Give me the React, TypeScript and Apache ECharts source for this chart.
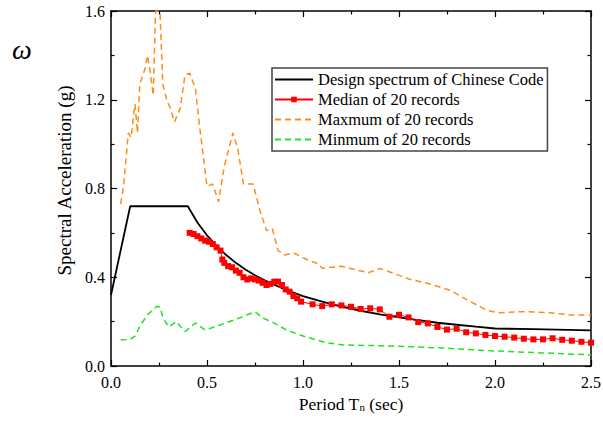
import React, { useEffect, useRef } from "react";
import * as echarts from "echarts";

const FONT = '"Liberation Serif", "Times New Roman", serif';

// Design spectrum of Chinese Code
const designT = [0, 0.1, 0.4, 0.45, 0.5, 0.55, 0.6, 0.65, 0.7, 0.75, 0.8, 0.9, 1.0, 1.1, 1.2, 1.3, 1.4, 1.5, 1.6, 1.7, 1.8, 1.9, 2.0, 2.2, 2.5];
const designS = [0.32, 0.72, 0.72, 0.647, 0.589, 0.541, 0.5, 0.465, 0.435, 0.409, 0.386, 0.347, 0.315, 0.29, 0.268, 0.249, 0.233, 0.219, 0.207, 0.195, 0.186, 0.177, 0.169, 0.166, 0.161];

// Median of 20 records
const medianT = [0.41, 0.43, 0.45, 0.47, 0.49, 0.51, 0.53, 0.55, 0.57, 0.58, 0.59, 0.61, 0.63, 0.65, 0.67, 0.69, 0.71, 0.73, 0.75, 0.77, 0.79, 0.81, 0.83, 0.85, 0.87, 0.89, 0.91, 0.93, 0.95, 0.97, 0.99,
  1.05, 1.1, 1.15, 1.2, 1.25, 1.3, 1.35, 1.4, 1.45, 1.5, 1.55, 1.6, 1.65, 1.7, 1.75, 1.8, 1.85, 1.9, 1.95, 2.0, 2.05, 2.1, 2.15, 2.2, 2.25, 2.3, 2.35, 2.4, 2.45, 2.5];
const medianS = [0.6, 0.595, 0.585, 0.575, 0.565, 0.56, 0.55, 0.535, 0.52, 0.48, 0.465, 0.45, 0.445, 0.43, 0.42, 0.4, 0.39, 0.395, 0.39, 0.385, 0.375, 0.365, 0.37, 0.38, 0.38, 0.365, 0.345, 0.335, 0.315, 0.305, 0.29,
  0.278, 0.27, 0.278, 0.273, 0.267, 0.257, 0.26, 0.255, 0.222, 0.231, 0.219, 0.198, 0.192, 0.176, 0.164, 0.168, 0.152, 0.147, 0.14, 0.135, 0.132, 0.128, 0.123, 0.12, 0.12, 0.125, 0.118, 0.114, 0.109, 0.105];

// Maxmum of 20 records
const maxT = [0.05, 0.064, 0.08, 0.09, 0.105, 0.12, 0.125, 0.138, 0.15, 0.177, 0.19, 0.205, 0.22, 0.232, 0.255, 0.27, 0.29, 0.31, 0.33, 0.36, 0.385, 0.41, 0.44, 0.46, 0.5, 0.53, 0.56, 0.59, 0.635, 0.66, 0.69, 0.74, 0.776, 0.81, 0.84, 0.87, 0.905, 0.95, 1.02, 1.08, 1.1, 1.2, 1.34, 1.4, 1.56, 1.66, 1.77, 1.85, 1.96, 2.02, 2.15, 2.29, 2.39, 2.5];
const maxS = [0.73, 0.8, 0.95, 1.05, 1.03, 1.15, 1.18, 1.05, 1.27, 1.34, 1.4, 1.32, 1.22, 1.6, 1.6, 1.27, 1.2, 1.16, 1.1, 1.16, 1.31, 1.32, 1.25, 1.09, 0.81, 0.82, 0.74, 0.9, 1.05, 0.98, 0.82, 0.82, 0.7, 0.61, 0.62, 0.52, 0.5, 0.51, 0.48, 0.46, 0.44, 0.45, 0.42, 0.44, 0.39, 0.37, 0.34, 0.3, 0.25, 0.24, 0.245, 0.24, 0.23, 0.23];

// Minmum of 20 records
const minT = [0.05, 0.1, 0.125, 0.15, 0.19, 0.24, 0.255, 0.27, 0.3, 0.34, 0.385, 0.44, 0.49, 0.54, 0.61, 0.68, 0.75, 0.79, 0.84, 0.915, 1.0, 1.125, 1.21, 1.47, 1.73, 1.99, 2.25, 2.5];
const minS = [0.117, 0.12, 0.135, 0.18, 0.23, 0.27, 0.266, 0.22, 0.176, 0.2, 0.155, 0.194, 0.162, 0.176, 0.198, 0.22, 0.245, 0.216, 0.198, 0.162, 0.135, 0.104, 0.095, 0.09, 0.081, 0.068, 0.059, 0.05];

const seriesNames = ["Design spectrum of Chinese Code", "Median of 20 records", "Maxmum of 20 records", "Minmum of 20 records"];
const xTicks = [0, 0.5, 1.0, 1.5, 2.0, 2.5];
const yTicks = [0, 0.4, 0.8, 1.2, 1.6];

const zip = (a: number[], b: number[]) => a.map((v, i) => [v, b[i]]);

export default function App() {
  const ref = useRef<HTMLDivElement>(null);
  useEffect(() => {
    if (!ref.current) return;
    const chart = echarts.init(ref.current, undefined, { renderer: "svg" });
    const axisLine = { show: true, onZero: false, lineStyle: { color: "#000", width: 1.5 } };
    const baseX = {
      type: "value" as const,
      min: xTicks[0],
      max: xTicks[xTicks.length - 1],
      interval: 0.5,
      axisLine,
      splitLine: { show: false },
      axisTick: { show: true, inside: true, length: 6, lineStyle: { color: "#000", width: 1.2 } },
      minorTick: { show: true, splitNumber: 2, length: 3.5, lineStyle: { color: "#000", width: 1.2 } },
    };
    const baseY = {
      type: "value" as const,
      min: yTicks[0],
      max: yTicks[yTicks.length - 1],
      interval: 0.4,
      axisLine,
      splitLine: { show: false },
      axisTick: { show: true, inside: true, length: 6, lineStyle: { color: "#000", width: 1.2 } },
      minorTick: { show: true, splitNumber: 2, length: 3.5, lineStyle: { color: "#000", width: 1.2 } },
    };
    chart.setOption({
      animation: false,
      backgroundColor: "#fff",
      grid: { left: 111, top: 11, right: 12, bottom: 55, outerBoundsMode: "none", containLabel: false },
      graphic: [
        {
          type: "text",
          x: 12,
          y: 49,
          style: { text: "ω", font: `italic 28px ${FONT}`, fill: "#000", verticalAlign: "middle" },
        },
      ],
      legend: {
        orient: "vertical",
        left: 272,
        top: 68,
        padding: [3, 4, 3, 2],
        itemWidth: 38,
        itemHeight: 7,
        itemGap: 3,
        borderColor: "#444",
        borderWidth: 1.5,
        backgroundColor: "#fff",
        textStyle: { fontFamily: FONT, fontSize: 16.5, color: "#000", lineHeight: 17, padding: [0, 0, 0, 0] },
        data: [
          { name: seriesNames[0], itemStyle: { opacity: 0 } },
          { name: seriesNames[1] },
          { name: seriesNames[2], itemStyle: { opacity: 0 } },
          { name: seriesNames[3], itemStyle: { opacity: 0 } },
        ],
      },
      xAxis: [
        {
          ...baseX,
          position: "bottom",
          axisLabel: { show: true, margin: 8, fontFamily: FONT, fontSize: 16, color: "#000", formatter: (v: number) => v.toFixed(1) },
          name: "{a|Period T}{b|n}{a| (sec)}",
          nameLocation: "middle",
          nameGap: 27,
          nameTextStyle: {
            fontFamily: FONT,
            fontSize: 17.5,
            color: "#000",
            rich: {
              a: { fontFamily: FONT, fontSize: 17.5, color: "#000" },
              b: { fontFamily: FONT, fontSize: 11, color: "#000", verticalAlign: "bottom" },
            },
          },
        },
        { ...baseX, position: "top", axisLabel: { show: false } },
      ],
      yAxis: [
        {
          ...baseY,
          position: "left",
          axisLabel: { show: true, margin: 6, fontFamily: FONT, fontSize: 16, color: "#000", formatter: (v: number) => v.toFixed(1) },
          name: "Spectral Acceleration (g)",
          nameLocation: "middle",
          nameGap: 36,
          nameTextStyle: { fontFamily: FONT, fontSize: 19, color: "#000", padding: [0, 0, 0, 16] },
        },
        { ...baseY, position: "right", axisLabel: { show: false } },
      ],
      series: [
        {
          name: seriesNames[0],
          type: "line",
          data: zip(designT, designS),
          symbol: "none",
          color: "#000",
          lineStyle: { color: "#000", width: 1.8 },
          z: 3,
        },
        {
          name: seriesNames[1],
          type: "line",
          data: zip(medianT, medianS),
          symbol: "rect",
          symbolSize: 6,
          showAllSymbol: true,
          color: "#ff0000",
          itemStyle: { color: "#ff0000" },
          lineStyle: { color: "#ff0000", width: 1 },
          z: 4,
        },
        {
          name: seriesNames[2],
          type: "line",
          data: zip(maxT, maxS),
          symbol: "none",
          color: "#ff8c1a",
          lineStyle: { color: "#ff8c1a", width: 1.5, type: [6, 4] },
          z: 2,
        },
        {
          name: seriesNames[3],
          type: "line",
          data: zip(minT, minS),
          symbol: "none",
          color: "#1ee61e",
          lineStyle: { color: "#1ee61e", width: 1.5, type: [6, 4] },
          z: 2,
        },
      ],
    });
    return () => chart.dispose();
  }, []);
  return <div ref={ref} style={{ position: "fixed", left: 0, top: 0, width: 603, height: 421 }} />;
}
